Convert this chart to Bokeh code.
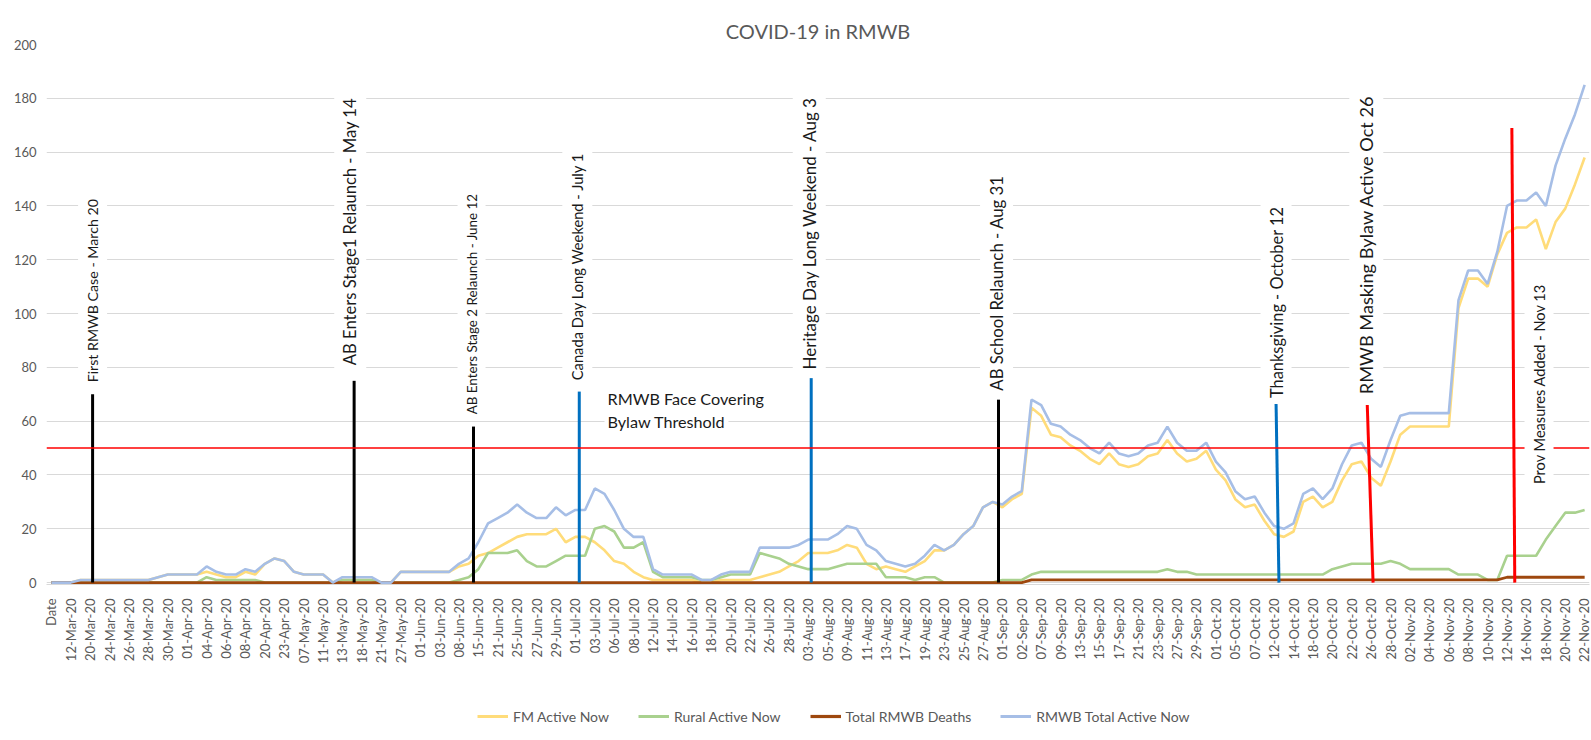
import math
from bokeh.plotting import figure
from bokeh.layouts import column
from bokeh.models import (ColumnDataSource, Label, Span, Legend, LegendItem,
                          FixedTicker, Range1d)
from bokeh.embed import file_html
from bokeh.resources import INLINE

# ---------------- data ----------------
date_labels = ["Date", "12-Mar-20", "20-Mar-20", "24-Mar-20", "26-Mar-20", "28-Mar-20",
               "30-Mar-20", "01-Apr-20", "04-Apr-20", "06-Apr-20", "08-Apr-20", "20-Apr-20",
               "23-Apr-20", "07-May-20", "11-May-20", "13-May-20", "18-May-20", "21-May-20",
               "27-May-20", "01-Jun-20", "03-Jun-20", "08-Jun-20", "15-Jun-20", "21-Jun-20",
               "25-Jun-20", "27-Jun-20", "29-Jun-20", "01-Jul-20", "03-Jul-20", "06-Jul-20",
               "08-Jul-20", "12-Jul-20", "14-Jul-20", "16-Jul-20", "18-Jul-20", "20-Jul-20",
               "22-Jul-20", "26-Jul-20", "28-Jul-20", "03-Aug-20", "05-Aug-20", "09-Aug-20",
               "11-Aug-20", "13-Aug-20", "17-Aug-20", "19-Aug-20", "23-Aug-20", "25-Aug-20",
               "27-Aug-20", "01-Sep-20", "02-Sep-20", "07-Sep-20", "09-Sep-20", "13-Sep-20",
               "15-Sep-20", "17-Sep-20", "21-Sep-20", "23-Sep-20", "27-Sep-20", "29-Sep-20",
               "01-Oct-20", "05-Oct-20", "07-Oct-20", "12-Oct-20", "14-Oct-20", "18-Oct-20",
               "20-Oct-20", "22-Oct-20", "26-Oct-20", "28-Oct-20", "02-Nov-20", "04-Nov-20",
               "06-Nov-20", "08-Nov-20", "10-Nov-20", "12-Nov-20", "16-Nov-20", "18-Nov-20",
               "20-Nov-20", "22-Nov-20"]

total_active = [0, 0, 0, 1, 1, 1, 1, 1, 1, 1, 1, 2, 3, 3, 3, 3, 6, 4, 3, 3, 5, 4, 7, 9, 8, 4, 3, 3, 3, 0,
                2, 2, 2, 2, 0, 0, 4, 4, 4, 4, 4, 4, 7, 9, 15, 22, 24, 26, 29, 26, 24, 24, 28, 25, 27, 27, 35, 33, 27, 20,
                17, 17, 5, 3, 3, 3, 3, 1, 1, 3, 4, 4, 4, 13, 13, 13, 13, 14, 16, 16, 16, 18, 21, 20, 14, 12, 8, 7, 6, 7,
                10, 14, 12, 14, 18, 21, 28, 30, 29, 32, 34, 68, 66, 59, 58, 55, 53, 50, 48, 52, 48, 47, 48, 51, 52, 58, 52, 49, 49, 52,
                45, 41, 34, 31, 32, 26, 21, 20, 22, 33, 35, 31, 35, 44, 51, 52, 46, 43, 53, 62, 63, 63, 63, 63, 63, 105, 116, 116, 111, 123,
                140, 142, 142, 145, 140, 155, 165, 174, 185]

fm_active = [0, 0, 0, 1, 1, 1, 1, 1, 1, 1, 1, 2, 3, 3, 3, 3, 4, 3, 2, 2, 4, 3, 7, 9, 8, 4, 3, 3, 3, 0,
             1, 1, 1, 1, 0, 0, 4, 4, 4, 4, 4, 4, 6, 7, 10, 11, 13, 15, 17, 18, 18, 18, 20, 15, 17, 17, 15, 12, 8, 7,
             4, 2, 1, 1, 1, 1, 1, 0, 0, 1, 1, 1, 1, 2, 3, 4, 6, 8, 11, 11, 11, 12, 14, 13, 7, 5, 6, 5, 4, 6,
             8, 12, 12, 14, 18, 21, 28, 30, 28, 31, 33, 65, 62, 55, 54, 51, 49, 46, 44, 48, 44, 43, 44, 47, 48, 53, 48, 45, 46, 49,
             42, 38, 31, 28, 29, 23, 18, 17, 19, 30, 32, 28, 30, 38, 44, 45, 39, 36, 45, 55, 58, 58, 58, 58, 58, 102, 113, 113, 110, 122,
             130, 132, 132, 135, 124, 134, 139, 148, 158]

rural_active = [0, 0, 0, 0, 0, 0, 0, 0, 0, 0, 0, 0, 0, 0, 0, 0, 2, 1, 1, 1, 1, 1, 0, 0, 0, 0, 0, 0, 0, 0,
                1, 1, 1, 1, 0, 0, 0, 0, 0, 0, 0, 0, 1, 2, 5, 11, 11, 11, 12, 8, 6, 6, 8, 10, 10, 10, 20, 21, 19, 13,
                13, 15, 4, 2, 2, 2, 2, 1, 1, 2, 3, 3, 3, 11, 10, 9, 7, 6, 5, 5, 5, 6, 7, 7, 7, 7, 2, 2, 2, 1,
                2, 2, 0, 0, 0, 0, 0, 0, 1, 1, 1, 3, 4, 4, 4, 4, 4, 4, 4, 4, 4, 4, 4, 4, 4, 5, 4, 4, 3, 3,
                3, 3, 3, 3, 3, 3, 3, 3, 3, 3, 3, 3, 5, 6, 7, 7, 7, 7, 8, 7, 5, 5, 5, 5, 5, 3, 3, 3, 1, 1,
                10, 10, 10, 10, 16, 21, 26, 26, 27]

total_deaths = [0, 0, 0, 0, 0, 0, 0, 0, 0, 0, 0, 0, 0, 0, 0, 0, 0, 0, 0, 0, 0, 0, 0, 0, 0, 0, 0, 0, 0, 0,
                0, 0, 0, 0, 0, 0, 0, 0, 0, 0, 0, 0, 0, 0, 0, 0, 0, 0, 0, 0, 0, 0, 0, 0, 0, 0, 0, 0, 0, 0,
                0, 0, 0, 0, 0, 0, 0, 0, 0, 0, 0, 0, 0, 0, 0, 0, 0, 0, 0, 0, 0, 0, 0, 0, 0, 0, 0, 0, 0, 0,
                0, 0, 0, 0, 0, 0, 0, 0, 0, 0, 0, 1, 1, 1, 1, 1, 1, 1, 1, 1, 1, 1, 1, 1, 1, 1, 1, 1, 1, 1,
                1, 1, 1, 1, 1, 1, 1, 1, 1, 1, 1, 1, 1, 1, 1, 1, 1, 1, 1, 1, 1, 1, 1, 1, 1, 1, 1, 1, 1, 1,
                2, 2, 2, 2, 2, 2, 2, 2, 2]

threshold = 50
y_ticks = [0, 20, 40, 60, 80, 100, 120, 140, 160, 180, 200]

# events: category position of the marker line (bottom, top), line height
event_text = ["First RMWB Case - March 20", "AB Enters Stage1 Relaunch - May 14",
              "AB Enters Stage 2 Relaunch - June 12", "Canada Day Long Weekend - July 1",
              "Heritage Day Long Weekend - Aug 3", "AB School Relaunch - Aug 31",
              "Thanksgiving - October 12", "RMWB Masking Bylaw Active Oct 26",
              "Prov Measures Added - Nov 13"]
event_x_bottom = [4.25, 31.2, 43.5, 54.4, 78.3, 97.6, 126.5, 136.2, 150.8]
event_x_top = [4.25, 31.2, 43.5, 54.4, 78.3, 97.6, 126.2, 135.6, 150.5]
event_height = [70, 75, 58, 71, 76, 68, 67, 66, 169]
event_color = ["#000000", "#000000", "#000000", "#0070C0", "#0070C0", "#000000",
               "#0070C0", "#FF0000", "#FF0000"]
event_label_x = [4.25, 30.8, 43.3, 54.2, 78.1, 97.4, 126.2, 135.5, 153.3]
event_label_y = [72.2, 78.6, 60.3, 73.0, 77.0, 69.1, 66.4, 67.8, 34.4]
event_font_px = [14.2, 16.6, 13.4, 14.7, 17, 16.8, 16.4, 18.2, 14.6]

series_names = ["FM Active Now", "Rural Active Now", "Total RMWB Deaths",
                "RMWB Total Active Now"]
series_cols = ["fm", "rural", "deaths", "total"]
series_colors = ["#FFDC7A", "#A9D18E", "#9E480E", "#A6BEE6"]
series_widths = [2.6, 2.6, 2.8, 2.6]

# ---------------- figure ----------------
idx = list(range(len(total_active)))
src = ColumnDataSource(dict(x=idx, fm=fm_active, rural=rural_active,
                            deaths=total_deaths, total=total_active))

p = figure(width=1591, height=700, output_backend="svg", toolbar_location=None,
           x_range=Range1d(-0.5, 158.5), y_range=Range1d(-0.7, 200),
           min_border_left=46, min_border_right=2, min_border_top=44,
           min_border_bottom=116, title="COVID-19 in RMWB")
p.outline_line_color = None
p.background_fill_color = "white"
p.border_fill_color = "white"

p.title.align = "center"
p.title.standoff = 3
p.title.text_font = "Lato"
p.title.text_font_size = "20px"
p.title.text_font_style = "normal"
p.title.text_color = "#595959"

p.xgrid.grid_line_color = None
p.ygrid.grid_line_color = "#d9d9d9"
p.ygrid.grid_line_width = 1

p.yaxis.ticker = FixedTicker(ticks=y_ticks)
p.yaxis.axis_line_color = None
p.yaxis.major_tick_line_color = None
p.yaxis.minor_tick_line_color = None
p.yaxis.major_label_standoff = 4
p.yaxis.major_label_text_font = "Lato"
p.yaxis.major_label_text_font_size = "13px"
p.yaxis.major_label_text_color = "#595959"

tick_pos = list(range(0, len(total_active), 2))
p.xaxis.ticker = FixedTicker(ticks=tick_pos)
p.xaxis.major_label_overrides = {t: lab for t, lab in zip(tick_pos, date_labels)}
p.xaxis.major_label_orientation = math.pi / 2
p.xaxis.axis_line_color = "#d9d9d9"
p.xaxis.major_tick_line_color = None
p.xaxis.minor_tick_line_color = None
p.xaxis.major_label_standoff = 8
p.xaxis.major_label_text_font = "Lato"
p.xaxis.major_label_text_font_size = "13px"
p.xaxis.major_label_text_color = "#595959"

# threshold line
p.add_layout(Span(location=threshold, dimension="width", line_color="#FF0000",
                  line_width=1.5))

for col, c, w in zip(series_cols, series_colors, series_widths):
    p.line("x", col, source=src, line_color=c, line_width=w)

# event marker lines
ev_src = ColumnDataSource(dict(x0=event_x_bottom, x1=event_x_top,
                               y0=[0] * len(event_height), y1=event_height,
                               c=event_color))
p.segment(x0="x0", y0="y0", x1="x1", y1="y1", line_color="c", line_width=3,
          source=ev_src)

for txt, lx, ly, fs in zip(event_text, event_label_x, event_label_y, event_font_px):
    p.add_layout(Label(x=lx, y=ly, text=txt, angle=math.pi / 2,
                       text_align="left", text_baseline="middle",
                       text_font="Lato", text_font_size=f"{fs}px",
                       text_color="#1a1a1a",
                       background_fill_color="white", padding=6))

p.add_layout(Label(x=57.0, y=68.6, text="RMWB Face Covering", text_align="left",
                   text_baseline="middle", text_font="Lato", text_font_size="16.2px",
                   text_color="#1a1a1a", background_fill_color="white", padding=3))
p.add_layout(Label(x=57.0, y=60.0, text="Bylaw Threshold", text_align="left",
                   text_baseline="middle", text_font="Lato", text_font_size="16.2px",
                   text_color="#1a1a1a", background_fill_color="white", padding=3))

# ---------------- legend strip ----------------
# ranges chosen so that no data falls inside: only the legend is visible
p2 = figure(width=1591, height=40, output_backend="svg", toolbar_location=None,
            x_range=Range1d(-20, -10), y_range=Range1d(-20, -10), min_border=0,
            x_axis_type=None, y_axis_type=None)
p2.outline_line_color = None
p2.border_fill_color = "white"
p2.background_fill_color = "white"
items = []
for name, col, c, w in zip(series_names, series_cols, series_colors, series_widths):
    r = p2.line("x", col, source=src, line_color=c, line_width=w + 0.4)
    items.append(LegendItem(label=name, renderers=[r]))
legend = Legend(items=items, orientation="horizontal", location=(431, 14),
                glyph_width=31, glyph_height=20, label_height=20,
                label_standoff=5, spacing=29, padding=0, margin=0,
                border_line_color=None, background_fill_alpha=0,
                label_text_font="Lato", label_text_font_size="14px",
                label_text_color="#595959")
p2.add_layout(legend)

layout = column(p, p2, spacing=0)
open("out.html", "w").write(file_html(layout, INLINE))
